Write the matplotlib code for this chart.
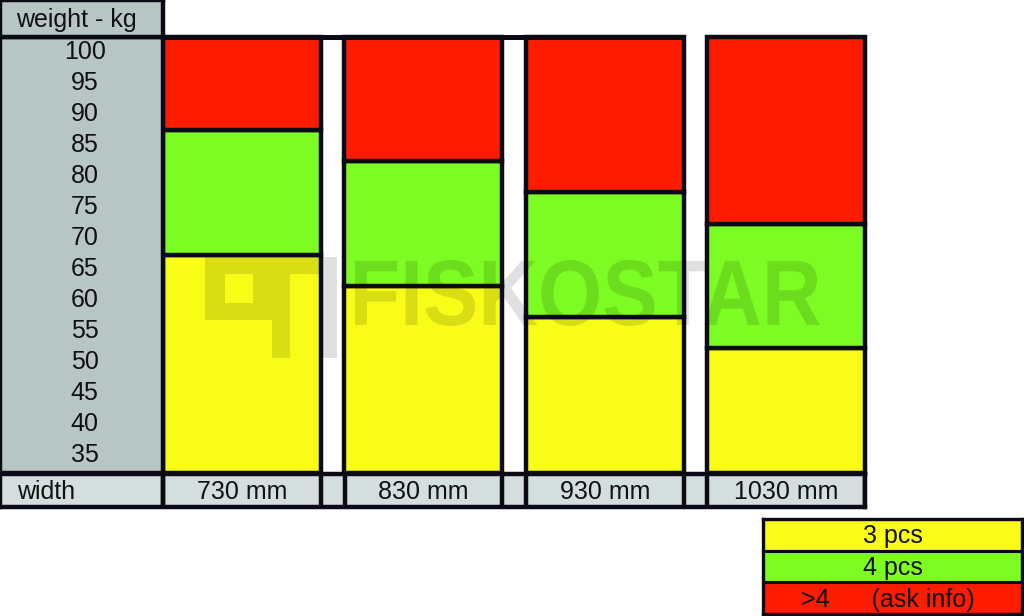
import matplotlib.pyplot as plt
from matplotlib.patches import Rectangle, PathPatch
from matplotlib.textpath import TextPath
from matplotlib.font_manager import FontProperties
from matplotlib.transforms import Affine2D

plt.rcParams['font.family'] = ['Liberation Sans', 'DejaVu Sans']

# data
widths = ['730 mm', '830 mm', '930 mm', '1030 mm']
max_3pcs = [67.3, 62.2, 57.3, 52.2]   # kg, upper limit for 3 pcs
max_4pcs = [87.4, 82.4, 77.4, 72.3]   # kg, upper limit for 4 pcs
weight_ticks = [100, 95, 90, 85, 80, 75, 70, 65, 60, 55, 50, 45, 40, 35]
legend_labels = ['3 pcs', '4 pcs', '>4      (ask info)']

y_lo, y_hi = 32.1, 102.4

yellow = '#f8fc17'
green = '#7cfc22'
red = '#fe1c00'
gray = '#b8c5c5'
light_gray = '#d5dede'
edge = '#0b0b16'
txt = '#111111'

W, H = 1024, 616
LW = 3.2


def box(x0, y0, x1, y1):
    # pixel box (top-left origin) -> figure fraction rect
    return [x0 / W, 1 - y1 / H, (x1 - x0) / W, (y1 - y0) / H]


def frame(a, lw=LW):
    for s in a.spines.values():
        s.set_linewidth(lw)
        s.set_color(edge)
    a.set_xticks([])
    a.set_yticks([])


fig = plt.figure(figsize=(W / 100, H / 100), dpi=100)

# bars
bar_w = 0.87
x = list(range(len(widths)))
ax = fig.add_axes(box(163, 37, 865, 473))
ax.set_xlim(-0.435, 3.435)
ax.set_ylim(y_lo, y_hi)
green_h = [g - y for g, y in zip(max_4pcs, max_3pcs)]
red_h = [y_hi - g for g in max_4pcs]
bars_y = [m - y_lo for m in max_3pcs]
ax.bar(x, bars_y, bar_w, bottom=y_lo, color=yellow, edgecolor=edge, linewidth=LW, clip_on=False, zorder=2)
ax.bar(x, green_h, bar_w, bottom=max_3pcs, color=green, edgecolor=edge, linewidth=LW, clip_on=False, zorder=2)
ax.bar(x, red_h, bar_w, bottom=max_4pcs, color=red, edgecolor=edge, linewidth=LW, clip_on=False, zorder=2)
ax.plot([-0.435, 2 + bar_w / 2], [y_hi, y_hi], color=edge, lw=LW + 0.4, clip_on=False, zorder=3,
        solid_capstyle='butt')
for s in ax.spines.values():
    s.set_visible(False)
ax.set_xticks([])
ax.set_yticks([])

# left weight column
ax_l = fig.add_axes(box(0, 37, 163, 473))
ax_l.set_facecolor(gray)
ax_l.set_ylim(y_lo, y_hi)
frame(ax_l)
for v in weight_ticks:
    ax_l.text(0.52, v, str(v), transform=ax_l.get_yaxis_transform(), ha='center', va='center',
              fontsize=18, color=txt)

# header
ax_h = fig.add_axes(box(0, 0, 163, 37))
ax_h.set_facecolor(gray)
frame(ax_h)
ax_h.text(0.1, 0.47, 'weight - kg', transform=ax_h.transAxes, ha='left', va='center', fontsize=18, color=txt)

# width row
ax_w = fig.add_axes(box(0, 474, 865, 507))
ax_w.set_facecolor(light_gray)
ax_w.set_xlim(-0.435 - 163 / 181, 3.435)
ax_w.set_ylim(0, 1)
frame(ax_w)
ax_w.axvline(-0.435, color=edge, lw=LW)
for xi in x:
    ax_w.axvline(xi - bar_w / 2, color=edge, lw=LW)
    ax_w.axvline(xi + bar_w / 2, color=edge, lw=LW)
for xi, lab in zip(x, widths):
    ax_w.text(xi, 0.45, lab, ha='center', va='center', fontsize=18, color=txt)
ax_w.text(-0.435 - 163 / 181 + 0.095, 0.45, 'width', ha='left', va='center', fontsize=18, color=txt)

# legend
ax_leg = fig.add_axes(box(763, 519, 1022, 614))
ax_leg.set_xlim(0, 1)
ax_leg.set_ylim(0, 3)
frame(ax_leg, lw=2.4)
leg_colors = [yellow, green, red]
for i, (lab, c) in enumerate(zip(legend_labels, leg_colors)):
    yy = 2.5 - i
    ax_leg.barh(yy, 1, 1, left=0, color=c, edgecolor=edge, linewidth=2.2)
    ax_leg.text(0.48 if i == 2 else 0.5, yy - 0.05, lab, ha='center', va='center', fontsize=18, color=txt)

# watermark
wm = dict(facecolor='black', alpha=0.12, edgecolor='none', transform=fig.transFigure, zorder=10)
for (x0, y0, x1, y1) in [(205, 257, 337, 274), (205, 274, 225, 320), (225, 303, 272, 320),
                         (253, 274, 272, 303), (272, 274, 290, 358), (320, 274, 337, 358)]:
    r = box(x0, y0, x1, y1)
    fig.add_artist(Rectangle((r[0], r[1]), r[2], r[3], **wm))

tp = TextPath((0, 0), 'FISKOSTAR', size=100, prop=FontProperties(family='Liberation Sans', weight='bold'))
ext = tp.get_extents()
sx = 465 / ext.width
sy = 67 / 72.0
to_fig = (Affine2D().translate(-ext.x0, 0).scale(sx, sy).translate(355, H - 325)
          + Affine2D().scale(1 / W, 1 / H) + fig.transFigure)
fig.add_artist(PathPatch(tp, facecolor='black', edgecolor='none', alpha=0.12, transform=to_fig, zorder=10))

fig.savefig('out.png', dpi=100)
